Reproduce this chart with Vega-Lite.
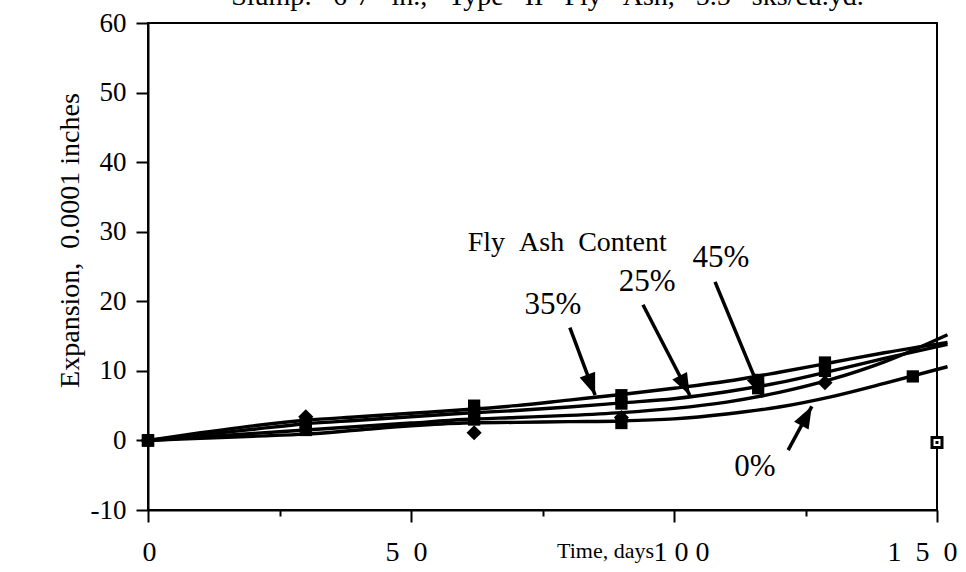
{
  "$schema": "https://vega.github.io/schema/vega-lite/v6.json",
  "width": 789,
  "height": 487,
  "autosize": {"type": "none"},
  "padding": {"left": 148, "top": 23, "right": 29, "bottom": 62},
  "background": "white",
  "title": {
    "text": "Slump:\u00a0\u00a0\u00a06-7\u00a0\u00a0\u00a0in.,\u00a0\u00a0\u00a0Type\u00a0\u00a0\u00a0II\u00a0\u00a0\u00a0Fly\u00a0\u00a0\u00a0Ash,\u00a0\u00a0\u00a05.5\u00a0\u00a0\u00a0sks/cu.yd.",
    "font": "Liberation Serif",
    "fontSize": 28,
    "fontWeight": "normal",
    "color": "black",
    "anchor": "middle",
    "frame": "group",
    "baseline": "alphabetic",
    "offset": 3,
    "dx": 5,
    "dy": 27
  },
  "config": {
    "view": {"stroke": "black", "strokeWidth": 2},
    "font": "Liberation Serif"
  },
  "resolve": {"scale": {"size": "independent", "shape": "independent"}},
  "datasets": {
    "curves": [
      {"series": "0%", "day": 0, "value": 0}, {"series": "0%", "day": 10, "value": 0.3}, {"series": "0%", "day": 20, "value": 0.6},
      {"series": "0%", "day": 30, "value": 0.9}, {"series": "0%", "day": 40, "value": 1.5}, {"series": "0%", "day": 50, "value": 2.1},
      {"series": "0%", "day": 60, "value": 2.5}, {"series": "0%", "day": 70, "value": 2.6}, {"series": "0%", "day": 80, "value": 2.7},
      {"series": "0%", "day": 90, "value": 2.8}, {"series": "0%", "day": 100, "value": 3.1}, {"series": "0%", "day": 110, "value": 3.8},
      {"series": "0%", "day": 120, "value": 4.8}, {"series": "0%", "day": 130, "value": 6.3}, {"series": "0%", "day": 140, "value": 8.2},
      {"series": "0%", "day": 152, "value": 10.6},
      {"series": "25%", "day": 0, "value": 0}, {"series": "25%", "day": 10, "value": 0.8}, {"series": "25%", "day": 20, "value": 1.6},
      {"series": "25%", "day": 30, "value": 2.4}, {"series": "25%", "day": 40, "value": 2.9}, {"series": "25%", "day": 50, "value": 3.4},
      {"series": "25%", "day": 60, "value": 3.9}, {"series": "25%", "day": 70, "value": 4.3}, {"series": "25%", "day": 80, "value": 4.8},
      {"series": "25%", "day": 90, "value": 5.4}, {"series": "25%", "day": 100, "value": 6.0}, {"series": "25%", "day": 110, "value": 7.0},
      {"series": "25%", "day": 120, "value": 8.3}, {"series": "25%", "day": 130, "value": 10.0}, {"series": "25%", "day": 140, "value": 11.8},
      {"series": "25%", "day": 152, "value": 13.8},
      {"series": "35%", "day": 0, "value": 0}, {"series": "35%", "day": 10, "value": 1.1}, {"series": "35%", "day": 20, "value": 2.1},
      {"series": "35%", "day": 30, "value": 2.9}, {"series": "35%", "day": 40, "value": 3.4}, {"series": "35%", "day": 50, "value": 3.9},
      {"series": "35%", "day": 60, "value": 4.4}, {"series": "35%", "day": 70, "value": 5.0}, {"series": "35%", "day": 80, "value": 5.8},
      {"series": "35%", "day": 90, "value": 6.6}, {"series": "35%", "day": 100, "value": 7.5}, {"series": "35%", "day": 110, "value": 8.5},
      {"series": "35%", "day": 120, "value": 9.8}, {"series": "35%", "day": 130, "value": 11.2}, {"series": "35%", "day": 140, "value": 12.6},
      {"series": "35%", "day": 152, "value": 14.1},
      {"series": "45%", "day": 0, "value": 0}, {"series": "45%", "day": 10, "value": 0.5}, {"series": "45%", "day": 20, "value": 1.0},
      {"series": "45%", "day": 30, "value": 1.5}, {"series": "45%", "day": 40, "value": 2.0}, {"series": "45%", "day": 50, "value": 2.5},
      {"series": "45%", "day": 60, "value": 3.0}, {"series": "45%", "day": 70, "value": 3.3}, {"series": "45%", "day": 80, "value": 3.6},
      {"series": "45%", "day": 90, "value": 4.0}, {"series": "45%", "day": 100, "value": 4.6}, {"series": "45%", "day": 110, "value": 5.5},
      {"series": "45%", "day": 120, "value": 6.9}, {"series": "45%", "day": 130, "value": 8.8}, {"series": "45%", "day": 140, "value": 11.3},
      {"series": "45%", "day": 152, "value": 15.2}
    ],
    "measured": [
      {"series": "0%", "day": 0, "value": 0}, {"series": "0%", "day": 30, "value": 1.5}, {"series": "0%", "day": 62, "value": 3.0},
      {"series": "0%", "day": 90, "value": 2.5}, {"series": "0%", "day": 145.4, "value": 9.2},
      {"series": "25%", "day": 0, "value": 0}, {"series": "25%", "day": 30, "value": 2.3}, {"series": "25%", "day": 62, "value": 4.1},
      {"series": "25%", "day": 90, "value": 5.3}, {"series": "25%", "day": 116, "value": 7.5}, {"series": "25%", "day": 128.7, "value": 10.0},
      {"series": "35%", "day": 0, "value": 0}, {"series": "35%", "day": 30, "value": 2.6}, {"series": "35%", "day": 62, "value": 5.0},
      {"series": "35%", "day": 90, "value": 6.5}, {"series": "35%", "day": 116, "value": 8.7}, {"series": "35%", "day": 128.7, "value": 11.2},
      {"series": "45%", "day": 0, "value": 0}, {"series": "45%", "day": 30, "value": 3.4}, {"series": "45%", "day": 62, "value": 1.1},
      {"series": "45%", "day": 90, "value": 3.3}, {"series": "45%", "day": 128.7, "value": 8.3}
    ],
    "open_reading": [
      {"series": "0%", "day": 150, "value": -0.3}
    ],
    "callouts": [
      {"text": "35%", "day": 80.2, "value": 16.2, "day2": 85.0, "value2": 6.5},
      {"text": "25%", "day": 94.1, "value": 19.5, "day2": 103.0, "value2": 6.5},
      {"text": "45%", "day": 107.8, "value": 22.8, "day2": 116.9, "value2": 6.2},
      {"text": "0%", "day": 121.7, "value": -1.4, "day2": 126.2, "value2": 4.9}
    ],
    "notes": [
      {"text": "Fly\u00a0\u00a0Ash\u00a0\u00a0Content", "day": 79.7, "value": 28.4, "kind": "heading"},
      {"text": "35%", "day": 77.0, "value": 19.5, "kind": "pct"},
      {"text": "25%", "day": 94.9, "value": 22.8, "kind": "pct"},
      {"text": "45%", "day": 108.9, "value": 26.2, "kind": "pct"},
      {"text": "0%", "day": 115.4, "value": -3.8, "kind": "pct"}
    ]
  },
  "layer": [
    {
      "data": {"name": "curves"},
      "mark": {"type": "line", "color": "black", "strokeWidth": 3.4, "interpolate": "monotone", "clip": false},
      "encoding": {
        "x": {
          "field": "day", "type": "quantitative",
          "scale": {"domain": [0, 150], "nice": false, "zero": false},
          "axis": {
            "values": [0, 25, 50, 75, 100, 125, 150],
            "title": "Time, days",
            "titleFont": "Liberation Serif", "titleFontSize": 22, "titleFontWeight": "normal", "titleColor": "black",
            "titleX": 457, "titleY": 47, "titleAlign": "center", "titleBaseline": "alphabetic",
            "labelExpr": "datum.value === 0 ? '0' : datum.value === 50 ? '5\u00a0\u00a00' : datum.value === 100 ? '1\u00a00\u00a00' : datum.value === 150 ? '1\u00a0\u00a05\u00a0\u00a00' : ''",
            "labelFont": "Liberation Serif", "labelFontSize": 28, "labelColor": "black",
            "labelBaseline": "alphabetic", "labelPadding": 38, "labelFlush": false, "labelOverlap": false,
            "labelOffset": {"condition": [
              {"test": "datum.value === 50", "value": -5},
              {"test": "datum.value === 100", "value": 7},
              {"test": "datum.value === 150", "value": -15}
            ], "value": 1},
            "tickSize": {"condition": {"test": "datum.value % 50 === 0", "value": 12}, "value": 6},
            "tickWidth": 2, "tickColor": "black",
            "domainColor": "black", "domainWidth": 2, "grid": false
          }
        },
        "y": {
          "field": "value", "type": "quantitative",
          "scale": {"domain": [-10, 60], "nice": false, "zero": false},
          "axis": {
            "values": [-10, -5, 0, 5, 10, 15, 20, 25, 30, 35, 40, 45, 50, 55, 60],
            "title": "Expansion,\u00a0\u00a00.0001 inches",
            "titleFont": "Liberation Serif", "titleFontSize": 28, "titleFontWeight": "normal", "titleColor": "black",
            "titleX": -78, "titleY": 217, "titleAlign": "center", "titleBaseline": "middle", "titleAngle": -90,
            "labelExpr": "datum.value % 10 === 0 ? '' + datum.value : ''",
            "labelFont": "Liberation Serif", "labelFontSize": 27, "labelColor": "black",
            "labelPadding": 10, "labelFlush": false, "labelOverlap": false,
            "tickSize": {"condition": {"test": "datum.value % 10 === 0", "value": 12}, "value": 6},
            "tickWidth": 2, "tickColor": "black",
            "domainColor": "black", "domainWidth": 2, "grid": false
          }
        },
        "detail": {"field": "series", "type": "nominal"}
      }
    },
    {
      "data": {"name": "measured"},
      "mark": {"type": "point", "filled": true, "color": "black", "opacity": 1, "clip": false},
      "encoding": {
        "x": {"field": "day", "type": "quantitative"},
        "y": {"field": "value", "type": "quantitative"},
        "shape": {
          "field": "series", "type": "nominal", "legend": null,
          "scale": {"domain": ["0%", "25%", "35%", "45%"], "range": ["square", "square", "square", "diamond"]}
        },
        "size": {
          "field": "series", "type": "nominal", "legend": null,
          "scale": {"type": "ordinal", "domain": ["0%", "25%", "35%", "45%"], "range": [150, 150, 150, 230]}
        }
      }
    },
    {
      "data": {"name": "open_reading"},
      "mark": {"type": "point", "shape": "square", "filled": false, "fill": "white", "fillOpacity": 1, "stroke": "black", "strokeWidth": 3, "size": 100, "clip": false},
      "encoding": {
        "x": {"field": "day", "type": "quantitative"},
        "y": {"field": "value", "type": "quantitative"}
      }
    },
    {
      "data": {"name": "open_reading"},
      "mark": {"type": "point", "shape": "square", "filled": true, "color": "black", "opacity": 1, "size": 9, "clip": false},
      "encoding": {
        "x": {"field": "day", "type": "quantitative"},
        "y": {"field": "value", "type": "quantitative"}
      }
    },
    {
      "data": {"name": "callouts"},
      "mark": {"type": "rule", "color": "black", "strokeWidth": 3.5},
      "encoding": {
        "x": {"field": "day", "type": "quantitative"},
        "y": {"field": "value", "type": "quantitative"},
        "x2": {"field": "day2"},
        "y2": {"field": "value2"}
      }
    },
    {
      "data": {"name": "callouts"},
      "transform": [
        {"calculate": "atan2((datum.day2 - datum.day) * 5.26, (datum.value2 - datum.value) * 6.957) * 180 / PI", "as": "heading"}
      ],
      "mark": {"type": "point", "shape": "M0,0L-0.75,2L0.75,2Z", "filled": true, "color": "black", "opacity": 1, "size": 484},
      "encoding": {
        "x": {"field": "day2", "type": "quantitative"},
        "y": {"field": "value2", "type": "quantitative"},
        "angle": {"field": "heading", "type": "quantitative", "scale": null}
      }
    },
    {
      "data": {"name": "notes"},
      "mark": {"type": "text", "font": "Liberation Serif", "color": "black", "align": "center", "baseline": "middle"},
      "encoding": {
        "x": {"field": "day", "type": "quantitative"},
        "y": {"field": "value", "type": "quantitative"},
        "text": {"field": "text", "type": "nominal"},
        "size": {
          "field": "kind", "type": "nominal", "legend": null,
          "scale": {"type": "ordinal", "domain": ["heading", "pct"], "range": [28, 31]}
        }
      }
    }
  ]
}
